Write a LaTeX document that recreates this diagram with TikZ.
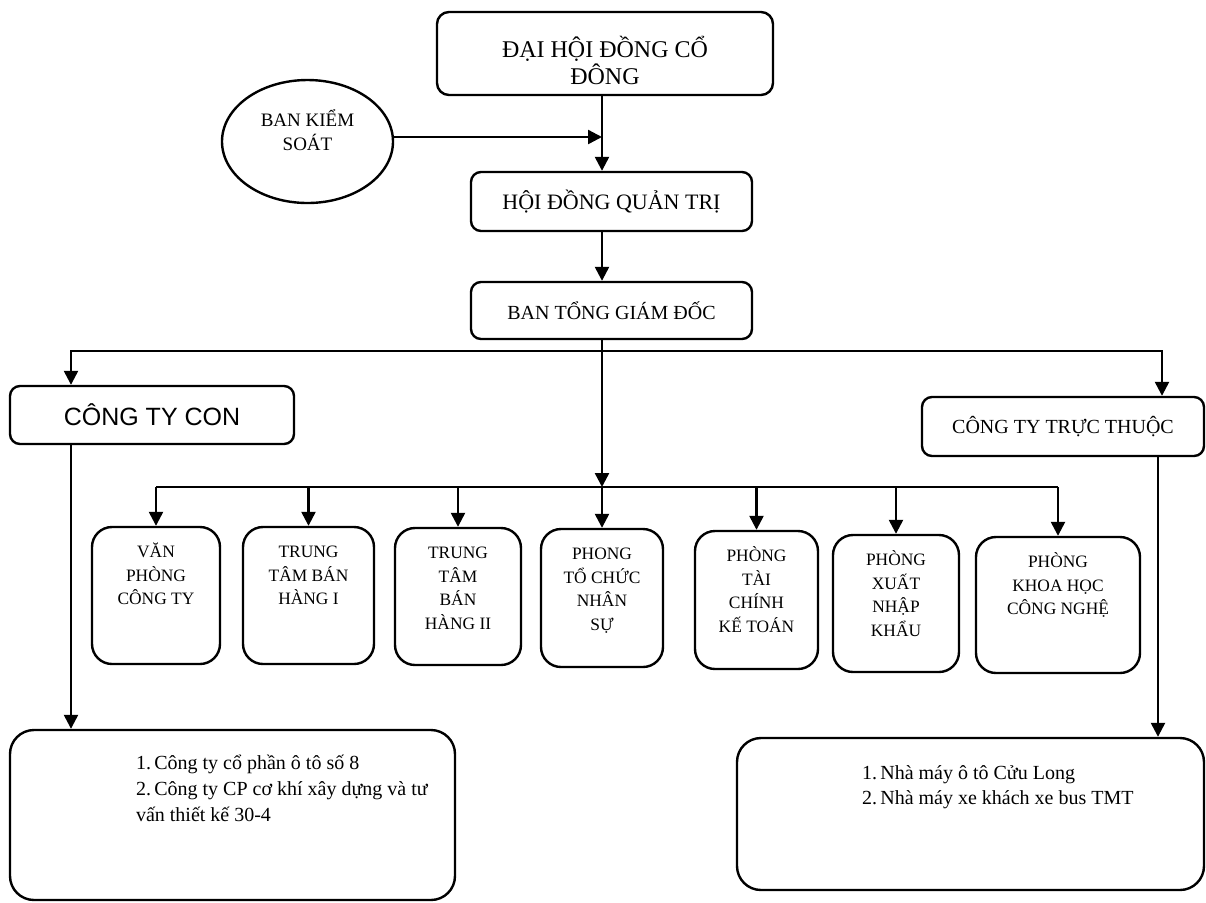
\documentclass[tikz,border=0pt]{standalone}
\usepackage{fontspec}
\setmainfont{Liberation Serif}
\newfontfamily\arialf{Liberation Sans}
\usetikzlibrary{shapes.geometric,arrows.meta}
\begin{document}
\begin{tikzpicture}[x=0.5pt,y=-0.5pt,
  line width=1.2pt,
  arr/.style={-{Triangle[length=7pt,width=7pt]}},
  box/.style={draw, rounded corners=5pt, inner sep=0pt, align=center},
  dbox/.style={draw, rounded corners=10pt, inner sep=0pt},
  dtext/.style={anchor=north, align=center, inner sep=0pt, font=\fontsize{8.7}{11.75}\selectfont},
  btext/.style={anchor=north west, align=left, inner sep=0pt},
  bigbox/.style={draw, rounded corners=12pt, inner sep=0pt}
]
\useasboundingbox[fill=white] (0,0) rectangle (1206,902);

% coordinates for connector lines
\coordinate (spine) at (602,0);
\coordinate (ctlev) at (0,137);
\coordinate (busA) at (0,351);
\coordinate (busB) at (0,487);
\coordinate (leftx) at (71,0);
\coordinate (rightx) at (1162,0);
\coordinate (rightx2) at (1158,0);

% top levels
\node[box, rounded corners=6pt, minimum width=168pt, minimum height=41.5pt] (top) at (605,53.5) {};
\node[align=center, inner sep=0pt, font=\fontsize{12}{13.5}\selectfont] (toptext) at (605,60) {ĐẠI HỘI ĐỒNG CỔ\\ĐÔNG};
\node[draw, ellipse, inner sep=0pt, minimum width=85.5pt, minimum height=61.5pt] (bks) at (307.5,141.5) {};
\node[align=center, inner sep=0pt, font=\fontsize{9.5}{12}\selectfont] (bkstext) at (307.5,130) {BAN KIỂM\\SOÁT};
\node[box, minimum width=140.5pt, minimum height=29.5pt, font=\fontsize{11}{13}\selectfont] (hdqt) at (611.5,201.5) {HỘI ĐỒNG QUẢN TRỊ};
\node[box, minimum width=140.5pt, minimum height=28.5pt, font=\fontsize{10}{12}\selectfont] (btgd) at (611.5,310.5) {BAN TỔNG GIÁM ĐỐC};

% company groups
\node[box, minimum width=142pt, minimum height=29pt, font=\arialf\fontsize{12.5}{14}\selectfont] (ctc) at (152,415) {CÔNG TY CON};
\node[box, minimum width=141pt, minimum height=29.5pt, font=\fontsize{10}{12}\selectfont] (cttt) at (1063,426.5) {CÔNG TY TRỰC THUỘC};

% departments
\node[dbox, minimum width=64pt, minimum height=68.5pt] (d1) at (156,595.5) {};
\node[dbox, minimum width=65.5pt, minimum height=68.5pt] (d2) at (308.5,595.5) {};
\node[dbox, minimum width=63pt, minimum height=68.5pt] (d3) at (458,596.5) {};
\node[dbox, minimum width=61pt, minimum height=69pt] (d4) at (602,598) {};
\node[dbox, minimum width=61.5pt, minimum height=69pt] (d5) at (756.5,600) {};
\node[dbox, minimum width=63pt, minimum height=68.5pt] (d6) at (896,603.5) {};
\node[dbox, minimum width=82pt, minimum height=68pt] (d7) at (1058,605) {};

\node[dtext] (t1) at ([yshift=-7.4pt]d1.north) {\rule{0pt}{8pt}VĂN\\PHÒNG\\CÔNG TY};
\node[dtext] (t2) at ([yshift=-7.4pt]d2.north) {\rule{0pt}{8pt}TRUNG\\TÂM BÁN\\HÀNG I};
\node[dtext] (t3) at ([yshift=-7.4pt]d3.north) {\rule{0pt}{8pt}TRUNG\\TÂM\\BÁN\\HÀNG II};
\node[dtext] (t4) at ([yshift=-7.4pt]d4.north) {\rule{0pt}{8pt}PHONG\\TỔ CHỨC\\NHÂN\\SỰ};
\node[dtext] (t5) at ([yshift=-7.4pt]d5.north) {\rule{0pt}{8pt}PHÒNG\\TÀI\\CHÍNH\\KẾ TOÁN};
\node[dtext] (t6) at ([yshift=-7.4pt]d6.north) {\rule{0pt}{8pt}PHÒNG\\XUẤT\\NHẬP\\KHẨU};
\node[dtext] (t7) at ([yshift=-7.4pt]d7.north) {\rule{0pt}{8pt}PHÒNG\\KHOA HỌC\\CÔNG NGHỆ};

% bottom boxes
\node[bigbox, minimum width=222.5pt, minimum height=85pt] (bl) at (232.5,815) {};
\node[btext, font=\fontsize{10}{13}\selectfont] (bltext) at ([xshift=63pt,yshift=-11.8pt]bl.north west) {\rule{0pt}{8pt}1.\,Công ty cổ phần ô tô số 8\\2.\,Công ty CP cơ khí xây dựng và tư\\vấn thiết kế 30-4};
\node[bigbox, minimum width=233.5pt, minimum height=76pt] (br) at (970.5,814) {};
\node[btext, font=\fontsize{10}{12.5}\selectfont] (brtext) at ([xshift=62.5pt,yshift=-12.8pt]br.north west) {\rule{0pt}{8pt}1.\,Nhà máy ô tô Cửu Long\\2.\,Nhà máy xe khách xe bus TMT};

% connectors
\draw[arr] (top.south -| spine) -- (hdqt.north -| spine);
\draw[arr] (bks.east |- ctlev) -- (spine |- ctlev);
\draw[arr] (hdqt.south -| spine) -- (btgd.north -| spine);
\draw[arr] (btgd.south -| spine) -- (spine |- busB);
\draw[arr] (spine |- busA) -| (ctc.north -| leftx);
\draw[arr] (spine |- busA) -| (cttt.north -| rightx);
\draw (d1.north |- busB) -- (d7.north |- busB);
\foreach \d in {d1,d2,d3,d4,d5,d6,d7}{
  \draw[arr] (\d.north |- busB) -- (\d.north);
}
\draw[arr] (ctc.south -| leftx) -- (bl.north -| leftx);
\draw[arr] (cttt.south -| rightx2) -- (br.north -| rightx2);
\end{tikzpicture}
\end{document}
